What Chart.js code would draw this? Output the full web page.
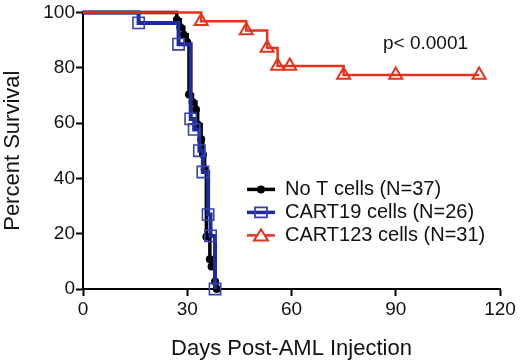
<!DOCTYPE html>
<html>
<head>
<meta charset="utf-8">
<script src="https://cdn.jsdelivr.net/npm/chart.js@4.4.0/dist/chart.umd.min.js"></script>
<style>
  html, body { margin: 0; padding: 0; background: #fff; }
</style>
</head>
<body>
<canvas id="chart-survival" width="520" height="362"></canvas>
<script>
const FONT = "'Liberation Sans', Arial, Helvetica, sans-serif";

// Kaplan-Meier steps (day, percent survival)
const daysNoT = [0, 27, 28, 29, 30, 30.5, 31.5, 32.5, 33, 34, 34.5, 35, 35.5, 36.5, 37, 38, 38.5];
const survivalNoT = [100, 97.3, 94.6, 91.9, 89.2, 70.3, 67.6, 64.9, 59.5, 54.1, 48.6, 43.2, 18.9, 10.8, 8.1, 2.7, 0];

const daysCart19 = [0, 16, 27.5, 31, 32, 33.5, 34.5, 36, 36.7, 38];
const survivalCart19 = [100, 96.2, 88.5, 61.5, 57.7, 50, 42.3, 26.9, 19.2, 0];

const daysCart123 = [0, 34, 47, 53, 56, 59.5, 75, 90, 114];
const survivalCart123 = [100, 96.8, 93.5, 87.1, 80.6, 80.6, 77.4, 77.4, 77.4];

const seriesLabels = ["No T cells (N=37)", "CART19 cells (N=26)", "CART123 cells (N=31)"];
const xTicks = [0, 30, 60, 90, 120];
const yTicks = [0, 20, 40, 60, 80, 100];
const pValueText = "p< 0.0001";

const BLACK = "#000000";
const BLUE = "#1f2a9e";
const BLUE_MARK = "#3642ad";
const RED = "#e5321c";

function toPoints(xs, ys) {
  return xs.map((x, i) => ({ x: x, y: ys[i] }));
}
// no marker on the starting point at day 0
function radii(xs, r) {
  return xs.map((x, i) => (i === 0 ? 0 : r));
}

// draws the legend and p value inside the plot
const annotations = {
  id: "annotations",
  afterDraw(chart) {
    const ctx = chart.ctx;
    const area = chart.chartArea;
    ctx.save();
    ctx.fillStyle = "#111";
    ctx.textBaseline = "middle";
    ctx.textAlign = "left";
    ctx.font = "19px " + FONT;
    ctx.fillText(pValueText, area.left + 300, area.top + 31);

    const rows = [
      { color: BLACK, width: 3.5, style: "circle" },
      { color: BLUE, width: 3.5, style: "rect", mark: BLUE_MARK },
      { color: RED, width: 2.5, style: "triangle" },
    ];
    const x0 = area.left + 164;
    const x1 = x0 + 28;
    const xm = (x0 + x1) / 2;
    ctx.font = "20px " + FONT;
    rows.forEach((row, i) => {
      const y = area.top + 177 + i * 23;
      ctx.strokeStyle = row.color;
      ctx.lineWidth = row.width;
      ctx.beginPath();
      ctx.moveTo(x0, y);
      ctx.lineTo(x1, y);
      ctx.stroke();
      if (row.style === "circle") {
        ctx.fillStyle = BLACK;
        ctx.beginPath();
        ctx.arc(xm, y, 4, 0, Math.PI * 2);
        ctx.fill();
      } else if (row.style === "rect") {
        ctx.strokeStyle = row.mark;
        ctx.lineWidth = 1.8;
        ctx.strokeRect(xm - 6, y - 5, 12, 10);
      } else {
        ctx.strokeStyle = RED;
        ctx.lineWidth = 2;
        ctx.fillStyle = "#fff";
        ctx.beginPath();
        ctx.moveTo(xm, y - 6);
        ctx.lineTo(xm + 7, y + 5);
        ctx.lineTo(xm - 7, y + 5);
        ctx.closePath();
        ctx.fill();
        ctx.stroke();
      }
      ctx.fillStyle = "#111";
      ctx.fillText(seriesLabels[i], x1 + 10, y);
    });
    ctx.restore();
  },
};

const ctxSurvival = document.getElementById("chart-survival");
new Chart(ctxSurvival, {
  type: "line",
  data: {
    datasets: [
      {
        label: seriesLabels[0],
        data: toPoints(daysNoT, survivalNoT),
        stepped: "before",
        borderColor: BLACK,
        borderWidth: 3.5,
        pointStyle: "circle",
        pointRadius: radii(daysNoT, 4),
        pointBackgroundColor: BLACK,
        pointBorderColor: BLACK,
        pointBorderWidth: 0,
        clip: false,
        order: 2,
      },
      {
        label: seriesLabels[1],
        data: toPoints(daysCart19, survivalCart19),
        stepped: "before",
        borderColor: BLUE,
        borderWidth: 4,
        pointStyle: "rect",
        pointRadius: radii(daysCart19, 8),
        pointBackgroundColor: "rgba(0,0,0,0)",
        pointBorderColor: BLUE_MARK,
        pointBorderWidth: 1.6,
        clip: false,
        order: 1,
      },
      {
        label: seriesLabels[2],
        data: toPoints(daysCart123, survivalCart123),
        stepped: "before",
        borderColor: RED,
        borderWidth: 2.5,
        pointStyle: "triangle",
        pointRadius: radii(daysCart123, 7.5),
        pointBackgroundColor: "rgba(0,0,0,0)",
        pointBorderColor: RED,
        pointBorderWidth: 2,
        clip: false,
        order: 0,
      },
    ],
  },
  options: {
    responsive: false,
    animation: false,
    layout: { padding: { top: 12, right: 20, left: 0, bottom: 0 } },
    plugins: { legend: { display: false }, tooltip: { enabled: false } },
    scales: {
      x: {
        type: "linear",
        min: 0,
        max: 120,
        afterBuildTicks: (scale) => { scale.ticks = xTicks.map((v) => ({ value: v })); },
        afterFit: (scale) => { scale.height = 73; },
        grid: { display: true, drawOnChartArea: false, tickLength: 7, tickWidth: 2, tickColor: BLACK },
        border: { display: true, color: BLACK, width: 2 },
        ticks: { color: "#111", font: { family: FONT, size: 19 }, padding: 2, maxRotation: 0 },
        title: { display: true, text: "Days Post-AML Injection", color: "#111", font: { family: FONT, size: 22 }, padding: { top: 0, bottom: 0 } },
      },
      y: {
        min: 0,
        max: 100,
        afterBuildTicks: (scale) => { scale.ticks = yTicks.map((v) => ({ value: v })); },
        afterFit: (scale) => { scale.width = 83; },
        grid: { display: true, drawOnChartArea: false, tickLength: 7, tickWidth: 2, tickColor: BLACK },
        border: { display: true, color: BLACK, width: 2 },
        ticks: { color: "#111", font: { family: FONT, size: 19 }, padding: 1 },
        title: { display: true, text: "Percent Survival", color: "#111", font: { family: FONT, size: 22 }, padding: { top: 0, bottom: 0 } },
      },
    },
  },
  plugins: [annotations],
});
</script>
</body>
</html>
